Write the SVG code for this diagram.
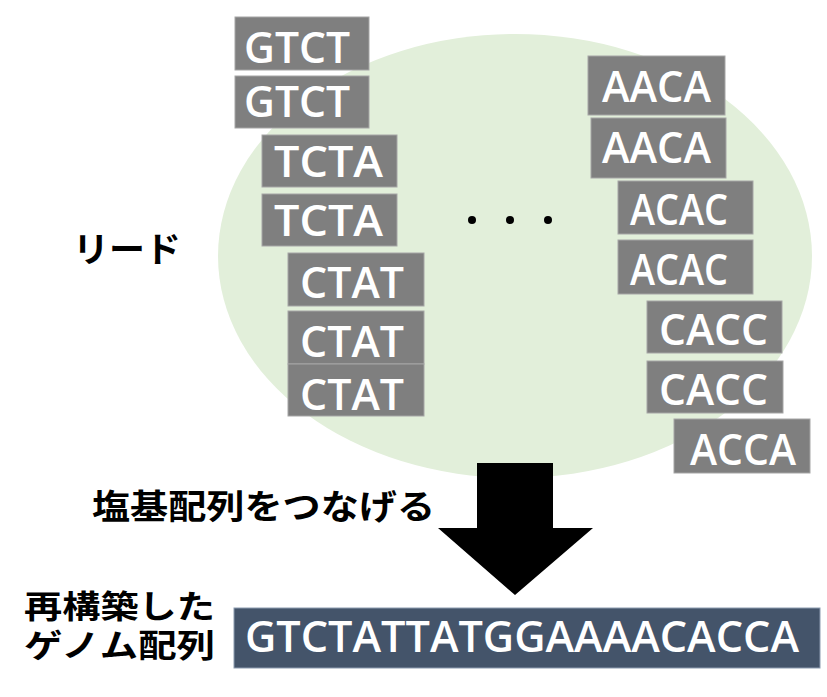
<svg xmlns="http://www.w3.org/2000/svg" width="827" height="697" viewBox="0 0 827 697">
<style>
.read rect{fill:#7f7f7f;stroke:#a6a6a6;stroke-width:1}
.read text{fill:#fff;font-family:"Open Sans","Noto Sans",sans-serif;font-size:43px;font-weight:600}
.jp{fill:#000;font-family:"Noto Sans CJK JP",sans-serif;font-weight:bold}
</style>
<rect width="827" height="697" fill="#fff"/>
<ellipse id="reads-area" cx="515" cy="256" rx="297" ry="222" fill="#e2efda"/>
<g id="r1" class="read"><rect x="235" y="17" width="134" height="53"/><text x="244" y="63" textLength="106" lengthAdjust="spacingAndGlyphs">GTCT</text></g>
<g id="r2" class="read"><rect x="235" y="76" width="134" height="52"/><text x="244" y="117" textLength="106" lengthAdjust="spacingAndGlyphs">GTCT</text></g>
<g id="r3" class="read"><rect x="262" y="135" width="135" height="52"/><text x="274" y="177" textLength="109" lengthAdjust="spacingAndGlyphs">TCTA</text></g>
<g id="r4" class="read"><rect x="262" y="194" width="135" height="52"/><text x="274" y="236" textLength="109" lengthAdjust="spacingAndGlyphs">TCTA</text></g>
<g id="r5" class="read"><rect x="288" y="253" width="136" height="53"/><text x="300" y="298" textLength="104" lengthAdjust="spacingAndGlyphs">CTAT</text></g>
<g id="r6" class="read"><rect x="288" y="311" width="136" height="53"/><text x="300" y="357" textLength="104" lengthAdjust="spacingAndGlyphs">CTAT</text></g>
<g id="r7" class="read"><rect x="288" y="364" width="136" height="52"/><text x="300" y="410" textLength="104" lengthAdjust="spacingAndGlyphs">CTAT</text></g>
<g id="r8" class="read"><rect x="588" y="56" width="137" height="59"/><text x="602" y="102" textLength="109" lengthAdjust="spacingAndGlyphs">AACA</text></g>
<g id="r9" class="read"><rect x="591" y="118" width="135" height="60"/><text x="602" y="163" textLength="109" lengthAdjust="spacingAndGlyphs">AACA</text></g>
<g id="r10" class="read"><rect x="618" y="181" width="135" height="53"/><text x="630" y="225" textLength="98" lengthAdjust="spacingAndGlyphs">ACAC</text></g>
<g id="r11" class="read"><rect x="618" y="240" width="135" height="54"/><text x="630" y="285" textLength="98" lengthAdjust="spacingAndGlyphs">ACAC</text></g>
<g id="r12" class="read"><rect x="647" y="301" width="135" height="52"/><text x="659" y="345" textLength="109" lengthAdjust="spacingAndGlyphs">CACC</text></g>
<g id="r13" class="read"><rect x="647" y="361" width="136" height="52"/><text x="659" y="405" textLength="109" lengthAdjust="spacingAndGlyphs">CACC</text></g>
<g id="r14" class="read"><rect x="674" y="419" width="136" height="54"/><text x="690" y="465" textLength="106" lengthAdjust="spacingAndGlyphs">ACCA</text></g>
<g id="dots" fill="#000"><circle cx="472" cy="220" r="4"/><circle cx="510" cy="220" r="4"/><circle cx="548" cy="220" r="4"/></g>
<g id="label-reads"><text class="jp" x="73" y="262" font-size="35" textLength="108" lengthAdjust="spacingAndGlyphs">リード</text></g>
<g id="connectors"><polygon points="477,463 553,463 553,528 593,528 515,595 438,528 477,528" fill="#000"/></g>
<g id="label-join"><text class="jp" x="92" y="519" font-size="34" textLength="343" lengthAdjust="spacingAndGlyphs">塩基配列をつなげる</text></g>
<g id="label-genome"><text class="jp" x="24" y="618" font-size="32" textLength="191" lengthAdjust="spacingAndGlyphs">再構築した</text><text class="jp" x="24" y="657" font-size="32" textLength="191" lengthAdjust="spacingAndGlyphs">ゲノム配列</text></g>
<g id="genome"><rect x="234" y="608" width="586" height="60" fill="#44546a" stroke="#8c9bb0" stroke-width="1"/><text x="245" y="652" fill="#fff" font-family="'Open Sans','Noto Sans',sans-serif" font-size="43" font-weight="600" textLength="554" lengthAdjust="spacingAndGlyphs">GTCTATTATGGAAAACACCA</text></g>
</svg>
